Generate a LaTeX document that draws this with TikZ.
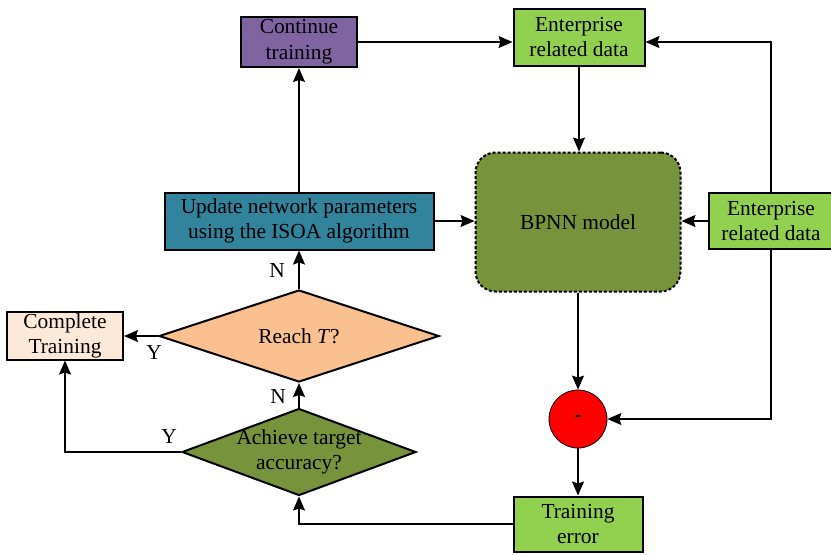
\documentclass[tikz,border=0pt]{standalone}
\usepackage{fontspec}
\setmainfont{Liberation Serif}
\usetikzlibrary{shapes.geometric,arrows.meta}
\definecolor{trainpurple}{HTML}{8064A2}
\definecolor{datagreen}{HTML}{92D050}
\definecolor{modelolive}{HTML}{77933C}
\definecolor{updateteal}{HTML}{31849B}
\definecolor{reachorange}{HTML}{FAC090}
\definecolor{donepeach}{HTML}{FDE9D9}
\tikzset{
    box/.style={rectangle,draw,line width=1pt,inner sep=0.5pt,align=center},
    decision/.style={diamond,draw,line width=1pt,inner sep=0pt},
    arrow/.style={-{Stealth[length=7pt,width=6pt,inset=1pt]},line width=0.7pt},
    link/.style={line width=0.7pt}
}

\begin{document}
\begin{tikzpicture}[x=0.5pt,y=-0.5pt,font=\fontsize{10.7}{12.8}\selectfont]
\useasboundingbox (0,0) rectangle (831,554);

% boxes
\node[box,fill=trainpurple,minimum width=58pt,minimum height=25pt] (cont) at (299,42) {Continue\\training};
\node[box,fill=datagreen,minimum width=65.5pt,minimum height=28.5pt] (etop) at (579,37) {Enterprise\\related data};
\node[box,fill=modelolive,draw,line width=1pt,dash pattern=on 1.5pt off 1pt,rounded corners=10pt,minimum width=102.5pt,minimum height=69.5pt] (bpnn) at (578,222) {BPNN model};
\node[box,fill=datagreen,minimum width=62pt,minimum height=28pt] (eright) at (771,221) {Enterprise\\related data};
\node[box,fill=updateteal,minimum width=134.5pt,minimum height=28.5pt] (upd) at (299,221) {Update network parameters\\using the ISOA algorithm};
\node[box,fill=donepeach,minimum width=58pt,minimum height=23pt] (done) at (65,336) {Complete\\Training};
\node[box,fill=datagreen,minimum width=64.5pt,minimum height=27.5pt] (terr) at (578,524) {Training\\error};
\node[circle,draw,fill=red,line width=0.4pt,minimum size=29pt,inner sep=0pt] (sub) at (578,419) {\textbf{-}};

% decisions
\node[decision,fill=reachorange,minimum width=140pt,minimum height=46pt] (reach) at (299,336) {};
\node (reachtxt) at (reach) {Reach \textit{T}?};
\node[decision,fill=modelolive,minimum width=117pt,minimum height=43.5pt] (ach) at (299,452) {};
\node[align=center] (achtxt) at (ach) {Achieve target\\accuracy?};

% connectors
\draw[arrow] (cont.east) -- (cont.east -| etop.west);
\draw[arrow] (eright.north) |- (cont.east -| etop.east);
\draw[arrow] (etop.south) -- (etop.south |- bpnn.north);
\draw[arrow] (eright.west) -- (eright.west -| bpnn.east);
\draw[arrow] (upd.east) -- (upd.east -| bpnn.west);
\draw[arrow] (bpnn.south) -- (sub.north);
\draw[arrow] (eright.south) |- (sub.east);
\draw[arrow] (sub.south) -- (terr.north);
\draw[arrow] (terr.west) -| (ach.south);
\draw[arrow] (ach.north) -- (reach.south);
\draw[arrow] (reach.north) -- (upd.south);
\draw[arrow] (upd.north) -- (cont.south);
\draw[arrow] (reach.west) -- (done.east);
\draw[arrow] (ach.west) -| (done.south);

% labels
\node (n1) at (277,270) {N};
\node (n2) at (278,396) {N};
\node (y1) at (154,352) {Y};
\node (y2) at (169,436) {Y};
\end{tikzpicture}
\end{document}
